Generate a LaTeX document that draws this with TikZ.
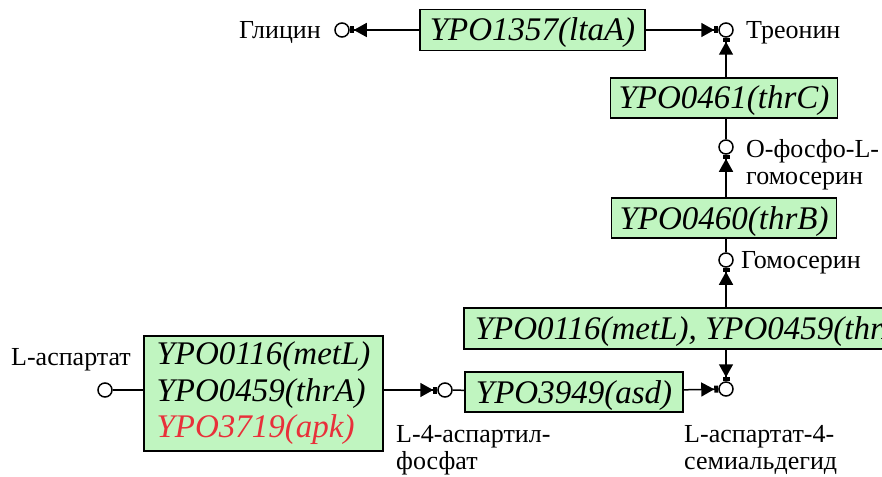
\documentclass[tikz,border=0pt]{standalone}
\usepackage{fontspec}
\setmainfont{Liberation Serif}[ItalicFont={Liberation Serif Italic}]
\usetikzlibrary{arrows.meta}
\definecolor{boxfill}{HTML}{C0F5C0}
\definecolor{genered}{HTML}{E8303A}
\tikzset{
  genebox/.style={draw, fill=boxfill, line width=1.5pt, inner xsep=8pt, inner ysep=5pt,
    font=\fontsize{33}{36.5}\selectfont\itshape, text height=26pt, text depth=4pt},
  metab/.style={circle, draw, fill=white, minimum size=14pt, inner sep=0pt, line width=1.5pt},
  lbl/.style={font=\fontsize{26}{27}\selectfont, inner sep=0pt, text height=17pt, text depth=0pt},
  lbltwo/.style={font=\fontsize{26}{27}\selectfont, inner sep=0pt, align=left},
  conn/.style={line width=1.5pt},
  rarrow/.style={conn, -{Triangle[length=13pt,width=14pt] Rectangle[length=4pt,width=7pt]}}
}
\begin{document}
\begin{tikzpicture}[x=1pt,y=-1pt]
\useasboundingbox (0,0) rectangle (882,476);
\clip (0,0) rectangle (882,476);
% metabolites
\node[metab] (gly) at (342,30) {};
\node[metab] (thr) at (726,30) {};
\node[metab] (ophs) at (726,147) {};
\node[metab] (hom) at (726,260) {};
\node[metab] (asa) at (726,389) {};
\node[metab] (asp4p) at (445,390) {};
\node[metab] (asp) at (105,390) {};
% labels
\node[lbl, anchor=east] (lgly) at (321,30) {Глицин};
\node[lbl, anchor=west] (lthr) at (746,30) {Треонин};
\node[lbltwo, anchor=north west] (lophs) at (746,139) {О-фосфо-L-\\гомосерин};
\node[lbl, anchor=west] (lhom) at (741,260) {Гомосерин};
\node[lbl] (lasp) at (71,357) {L-аспартат};
\node[lbltwo, anchor=north west] (lasp4p) at (396,425) {L-4-аспартил-\\фосфат};
\node[lbltwo, anchor=north west] (lasa) at (684,425) {L-аспартат-4-\\семиальдегид};
% enzyme boxes
\node[genebox, minimum width=225pt, minimum height=41pt] (ltaA) at (532.5,30) {YPO1357(ltaA)};
\node[genebox, minimum width=222pt, minimum height=40pt] (thrC) at (724,98) {YPO0461(thrC)};
\node[genebox, minimum width=222pt, minimum height=40pt] (thrB) at (724,218) {YPO0460(thrB)};
\node[genebox, anchor=west, minimum height=41pt, inner xsep=11pt] (big) at (463,328.5) {YPO0116(metL), YPO0459(thrA)};
\node[genebox, minimum width=218pt, minimum height=40pt] (asd) at (574,392) {YPO3949(asd)};
\node[genebox, minimum width=239pt, minimum height=115pt, align=left, text height=, text depth=, inner xsep=10pt] (ask) at (263.5,393.5)
  {YPO0116(metL)\\YPO0459(thrA)\\\textcolor{genered}{YPO3719(apk)}};
% connectors
\draw[rarrow] (ltaA) -- (gly);
\draw[rarrow] (ltaA) -- (thr);
\draw[rarrow] (thrC.north -| thr) -- (thr);
\draw[conn] (thrC.south -| ophs) -- (ophs);
\draw[rarrow] (thrB.north -| ophs) -- (ophs);
\draw[conn] (thrB.south -| hom) -- (hom);
\draw[rarrow] (big.north -| hom) -- (hom);
\draw[rarrow] (big.south -| asa) -- (asa);
\draw[rarrow] (asd) -- (asa);
\draw[conn] (asp4p) -- (asd);
\draw[rarrow] (ask.east |- asp4p) -- (asp4p);
\draw[conn] (asp) -- (ask.west |- asp);
\end{tikzpicture}
\end{document}
